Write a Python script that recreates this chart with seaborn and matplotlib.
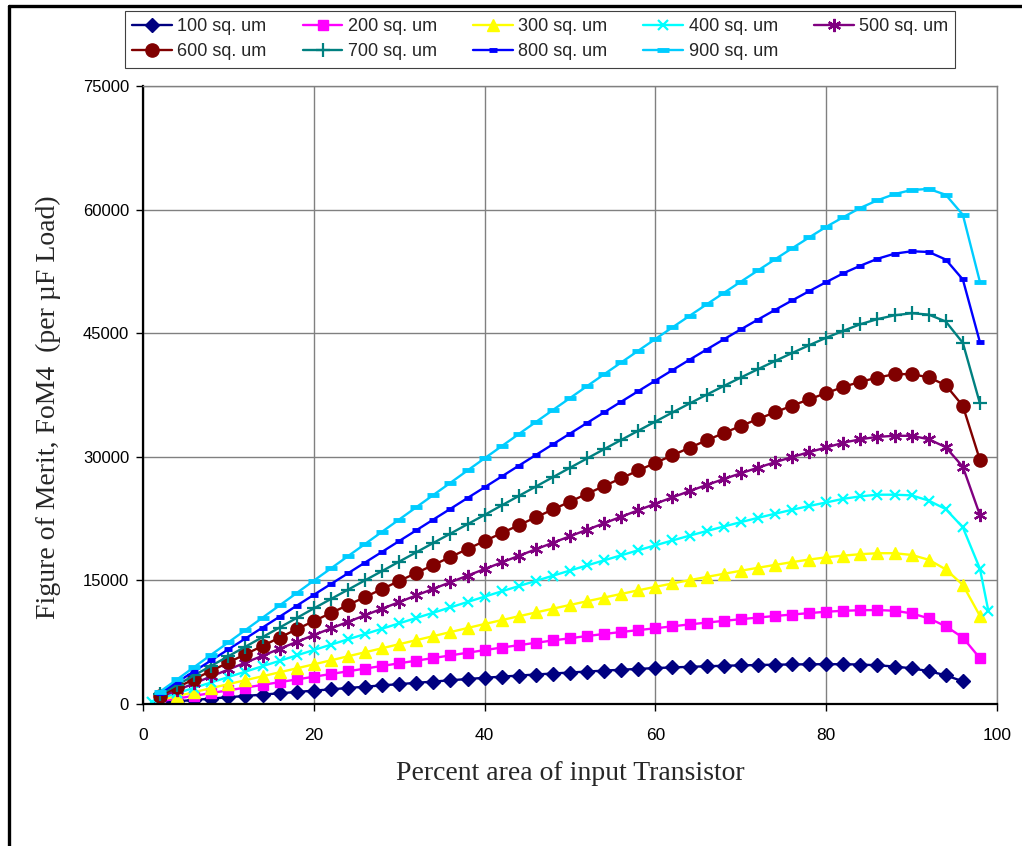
import matplotlib
matplotlib.use("Agg")
import matplotlib.pyplot as plt
from matplotlib.lines import Line2D
import seaborn as sns
import pandas as pd
import numpy as np

# Percent area of the input transistor (x positions of the samples)
x_even = list(range(2, 100, 2))          # 2 .. 98
x_100 = list(range(2, 97, 2))            # 2 .. 96
x_400 = [1] + list(range(2, 100, 2)) + [99]

# Figure of merit FoM4 (per uF load) for each total area
fom_100 = [160, 330, 490, 660, 820, 980, 1140, 1300, 1460, 1620,
           1780, 1940, 2100, 2260, 2410, 2570, 2720, 2880, 3030, 3180,
           3320, 3450, 3580, 3700, 3820, 3940, 4050, 4160, 4260, 4360,
           4440, 4510, 4580, 4640, 4690, 4730, 4770, 4800, 4820, 4830,
           4830, 4790, 4700, 4550, 4330, 3990, 3480, 2750]
fom_200 = [330, 660, 1000, 1330, 1660, 1990, 2320, 2650, 2980, 3310,
           3640, 3970, 4300, 4620, 4940, 5260, 5580, 5900, 6220, 6540,
           6850, 7140, 7430, 7710, 7980, 8250, 8500, 8740, 8970, 9190,
           9430, 9660, 9880, 10090, 10290, 10490, 10680, 10860, 11030, 11200,
           11310, 11380, 11400, 11320, 11000, 10400, 9440, 8060, 5560]
fom_300 = [480, 960, 1440, 1930, 2410, 2890, 3370, 3850, 4330, 4810,
           5300, 5790, 6280, 6770, 7260, 7750, 8240, 8730, 9220, 9710,
           10180, 10650, 11110, 11570, 12020, 12470, 12920, 13360, 13800, 14220,
           14630, 15030, 15420, 15800, 16170, 16530, 16880, 17220, 17530, 17800,
           18010, 18180, 18300, 18300, 18090, 17510, 16340, 14460, 10700]
fom_400 = [200,
           660, 1310, 1970, 2620, 3280, 3930, 4590, 5240, 5900, 6550,
           7200, 7850, 8490, 9140, 9790, 10440, 11080, 11730, 12380, 13030,
           13670, 14310, 14940, 15570, 16200, 16820, 17440, 18050, 18660, 19260,
           19850, 20430, 20990, 21540, 22070, 22590, 23090, 23570, 24030, 24460,
           24900, 25200, 25400, 25400, 25320, 24690, 23650, 21440, 16420,
           11240]
fom_500 = [840, 1670, 2510, 3350, 4190, 5020, 5860, 6700, 7540, 8370,
           9170, 9970, 10770, 11570, 12370, 13180, 13980, 14780, 15580, 16380,
           17180, 17980, 18780, 19570, 20360, 21150, 21940, 22730, 23520, 24310,
           25080, 25840, 26580, 27300, 28000, 28680, 29340, 29970, 30570, 31130,
           31710, 32130, 32420, 32550, 32550, 32130, 31170, 28790, 22940]
fom_600 = [1010, 2010, 3020, 4030, 5040, 6040, 7050, 8060, 9070, 10070,
           11040, 12010, 12980, 13960, 14930, 15900, 16870, 17840, 18810, 19780,
           20740, 21700, 22660, 23610, 24560, 25510, 26460, 27400, 28340, 29270,
           30190, 31100, 32000, 32880, 33740, 34580, 35400, 36200, 36980, 37730,
           38480, 39110, 39610, 40030, 40030, 39650, 38690, 36180, 29620]
fom_700 = [1160, 2320, 3480, 4640, 5800, 6960, 8120, 9280, 10440, 11600,
           12740, 13870, 15010, 16140, 17280, 18410, 19550, 20680, 21820, 22950,
           24100, 25250, 26390, 27530, 28670, 29800, 30930, 32050, 33170, 34280,
           35380, 36470, 37540, 38590, 39620, 40630, 41620, 42590, 43540, 44450,
           45290, 46090, 46710, 47170, 47420, 47260, 46420, 43830, 36480]
fom_800 = [1330, 2650, 3980, 5300, 6630, 7950, 9280, 10600, 11930, 13250,
           14560, 15860, 17170, 18470, 19780, 21080, 22390, 23690, 25000, 26300,
           27610, 28920, 30220, 31520, 32820, 34110, 35400, 36690, 37970, 39250,
           40520, 41780, 43020, 44250, 45460, 46650, 47820, 48970, 50100, 51200,
           52270, 53190, 54030, 54650, 54940, 54860, 53940, 51520, 43910]
fom_900 = [1500, 2990, 4490, 5990, 7480, 8980, 10480, 11970, 13470, 14970,
           16450, 17940, 19420, 20910, 22390, 23880, 25370, 26850, 28340, 29820,
           31290, 32760, 34220, 35680, 37130, 38580, 40020, 41450, 42880, 44300,
           45710, 47110, 48500, 49880, 51250, 52610, 53960, 55300, 56620, 57910,
           59080, 60210, 61130, 61880, 62380, 62510, 61800, 59370, 51230]

labels = ["100 sq. um", "200 sq. um", "300 sq. um", "400 sq. um", "500 sq. um",
          "600 sq. um", "700 sq. um", "800 sq. um", "900 sq. um"]
xs = [x_100, x_even, x_even, x_400, x_even, x_even, x_even, x_even, x_even]
ys = [fom_100, fom_200, fom_300, fom_400, fom_500, fom_600, fom_700, fom_800, fom_900]

colors = ["#000080", "#FF00FF", "#FFFF00", "#00FFFF", "#800080",
          "#800000", "#008080", "#0000FF", "#00CCFF"]
# marker, size, edge width, filled
styles = [("D", 7.5, 1.0, True),
          ("s", 7.5, 1.0, True),
          ("^", 8.5, 1.0, True),
          ("x", 7.5, 1.6, False),
          ((6, 2, 0), 9.5, 1.6, False),
          ("o", 9.5, 1.0, True),
          ("+", 9.5, 1.6, False),
          ("_", 6.0, 3.5, False),
          ("_", 9.0, 3.5, False)]

frames = []
for lab, xv, yv in zip(labels, xs, ys):
    frames.append(pd.DataFrame({"area": xv, "fom": yv, "series": lab}))
df = pd.concat(frames, ignore_index=True)

sns.set_theme(style="white")
plt.rcParams["font.family"] = ["Liberation Sans", "DejaVu Sans"]

fig = plt.figure(figsize=(10.22, 8.46), dpi=100)
ax = fig.add_axes([143 / 1022, 1 - 704 / 846, (997 - 143) / 1022, (704 - 86) / 846])

for lab, col, (mk, ms, mew, filled) in zip(labels, colors, styles):
    sub = df[df["series"] == lab]
    sns.lineplot(data=sub, x="area", y="fom", ax=ax, color=col, label=lab,
                 linewidth=1.7, marker=mk, markersize=ms,
                 markeredgewidth=mew, markeredgecolor=col,
                 markerfacecolor=col if filled else "none",
                 estimator=None, sort=False, legend=False)

ax.set_xlim(0, 100)
ax.set_ylim(0, 75000)
ax.set_xticks(range(0, 101, 20))
ax.set_yticks(range(0, 75001, 15000))
ax.grid(True, color="#808080", linewidth=1.0)
ax.set_axisbelow(True)
ax.set_xlabel("")
ax.set_ylabel("")

for side in ("top", "right"):
    ax.spines[side].set_color("#808080")
    ax.spines[side].set_linewidth(1.0)
for side in ("left", "bottom"):
    ax.spines[side].set_color("#000000")
    ax.spines[side].set_linewidth(1.6)

ax.tick_params(axis="both", which="major", direction="out", length=5,
               width=1.0, color="black", labelsize=12, labelcolor="black")
ax.tick_params(axis="x", pad=12, bottom=True)
ax.tick_params(axis="y", pad=5, left=True)
for t in ax.get_xticklabels():
    t.set_fontsize(12.5)

fig.text(570 / 1022, 1 - 773 / 846, "Percent area of input Transistor",
         ha="center", va="center", fontsize=20,
         family=["Liberation Serif", "DejaVu Serif"])
fig.text(48 / 1022, 1 - 407 / 846, "Figure of Merit, FoM4  (per \u00b5F Load)",
         ha="center", va="center", rotation=90, fontsize=20,
         family=["Liberation Serif", "DejaVu Serif"])

handles = []
for lab, col, (mk, ms, mew, filled) in zip(labels, colors, styles):
    handles.append(Line2D([], [], color=col, linewidth=1.7, marker=mk,
                          markersize=ms, markeredgewidth=mew,
                          markeredgecolor=col,
                          markerfacecolor=col if filled else "none"))
# legend is filled column by column; order entries so rows read 100..500, 600..900
order = [0, 5, 1, 6, 2, 7, 3, 8, 4]
leg = fig.legend([handles[i] for i in order], [labels[i] for i in order],
                 ncol=5, loc="upper left",
                 bbox_to_anchor=(125 / 1022, 1 - 11 / 846),
                 frameon=True, fancybox=False, shadow=False,
                 framealpha=1, edgecolor="#404040", fontsize=13,
                 handlelength=2.2, handletextpad=0.3, columnspacing=2.0,
                 borderpad=0.4, labelspacing=0.45, borderaxespad=0)
leg.get_frame().set_linewidth(0.8)

# outer chart border
x0 = 9 / 1022
y0 = 1 - 6 / 846
fig.add_artist(Line2D([x0, x0], [0, y0], transform=fig.transFigure,
                      color="black", linewidth=2.4))
fig.add_artist(Line2D([x0, 1.0], [y0, y0], transform=fig.transFigure,
                      color="black", linewidth=2.4))

fig.savefig("out.png", dpi=100, facecolor="white")
